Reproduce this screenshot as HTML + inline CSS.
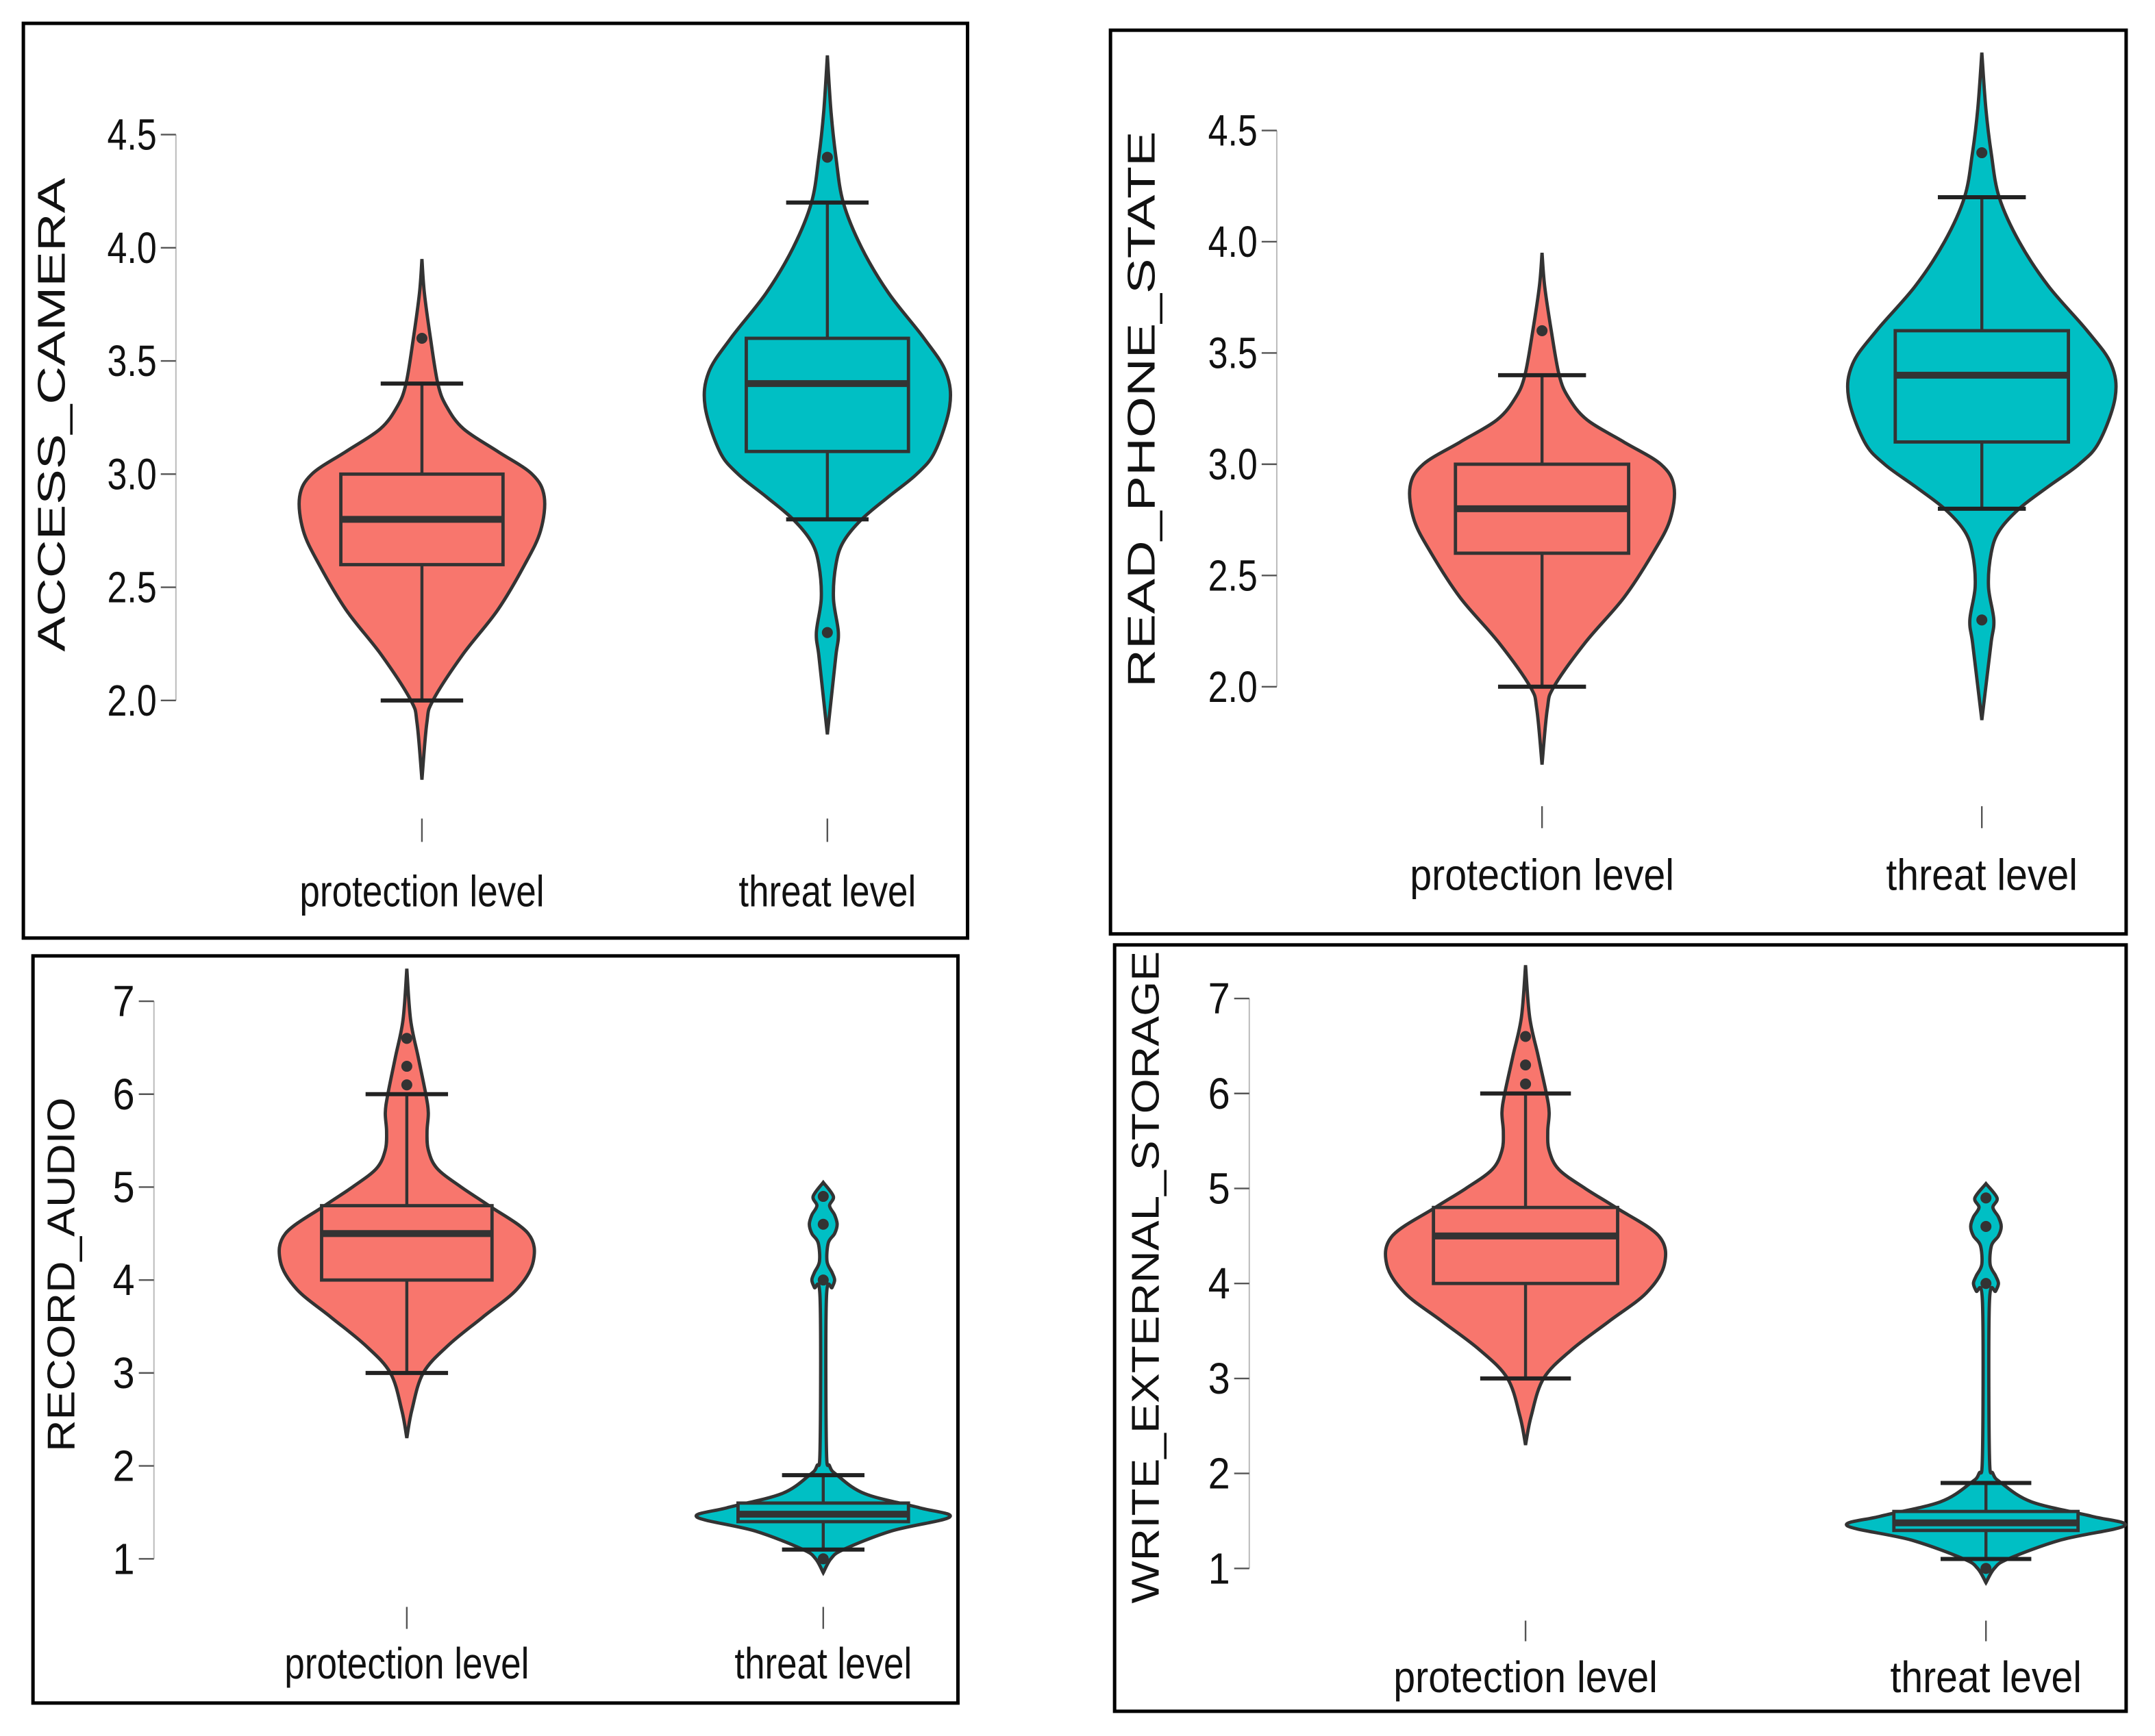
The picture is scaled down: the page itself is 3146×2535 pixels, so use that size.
<!DOCTYPE html>
<html><head><meta charset="utf-8"><style>
html,body{margin:0;padding:0;background:#fff;}
svg{display:block;}
</style></head><body>
<svg id="chart" xmlns="http://www.w3.org/2000/svg" width="3146" height="2535" viewBox="0 0 1568 1264" preserveAspectRatio="none"></svg>
<script>
// ---- data (values in data units; widths as relative density 0..1) ----
const categories = ["protection level", "threat level"];
const panelTitles = ["ACCESS_CAMERA", "READ_PHONE_STATE", "RECORD_AUDIO", "WRITE_EXTERNAL_STORAGE"];
const tickLabelsA = ["2.0", "2.5", "3.0", "3.5", "4.0", "4.5"];
const tickValuesA = [2.0, 2.5, 3.0, 3.5, 4.0, 4.5];
const tickLabelsB = ["1", "2", "3", "4", "5", "6", "7"];
const tickValuesB = [1, 2, 3, 4, 5, 6, 7];

// Violin density profiles: camera/phone
const protAVals = [1.65, 1.9, 2.0, 2.2, 2.4, 2.6, 2.75, 2.9, 3.0, 3.1, 3.2, 3.3, 3.4, 3.6, 3.8, 3.95];
const protADens = [0, 0.04, 0.09, 0.33, 0.62, 0.84, 0.97, 1.0, 0.9, 0.62, 0.34, 0.2, 0.13, 0.07, 0.02, 0];
const threatAVals = [1.85, 2.0, 2.2, 2.3, 2.45, 2.6, 2.7, 2.8, 2.9, 3.0, 3.1, 3.3, 3.45, 3.6, 3.8, 4.0, 4.2, 4.4, 4.6, 4.85];
const threatADens = [0, 0.03, 0.07, 0.09, 0.05, 0.07, 0.13, 0.28, 0.5, 0.73, 0.88, 1.0, 0.97, 0.79, 0.5, 0.28, 0.13, 0.07, 0.03, 0];
const protABox = [2.0, 2.6, 2.8, 3.0, 3.4];
const threatABox = [2.8, 3.1, 3.4, 3.6, 4.2];
const protAOut = [3.6];
const threatAOut = [4.4, 2.3];

// Violin density profiles: audio/storage
const protBVals = [2.3, 2.6, 3.0, 3.3, 3.6, 3.9, 4.2, 4.5, 4.8, 5.0, 5.2, 5.4, 5.6, 5.8, 6.0, 6.4, 6.8, 7.35];
const protBDens = [0, 0.04, 0.13, 0.33, 0.6, 0.87, 1.0, 0.96, 0.65, 0.43, 0.24, 0.17, 0.16, 0.17, 0.15, 0.09, 0.03, 0];
const threatBVals = [0.85, 1.0, 1.1, 1.3, 1.45, 1.55, 1.7, 1.9, 2.0, 2.2, 3.8, 3.92, 4.0, 4.08, 4.2, 4.4, 4.5, 4.6, 4.7, 4.8, 4.9, 5.05];
const threatBDens = [0, 0.06, 0.16, 0.54, 1.0, 0.76, 0.33, 0.11, 0.05, 0.025, 0.025, 0.07, 0.09, 0.07, 0.03, 0.04, 0.09, 0.11, 0.09, 0.05, 0.08, 0];
const protBBox = [3.0, 4.0, 4.5, 4.8, 6.0];
const threatBBox = [1.1, 1.4, 1.48, 1.6, 1.9];
const protBOut = [6.1, 6.3, 6.6];
const threatBOut = [1.0, 4.0, 4.6, 4.9];

const panels = [
  {name:"access-camera", frame:[17,17,704,683], ax:128, y0v:2.0, y0p:510, y1v:4.5, y1p:98, cx:[307,602], tickY:[596,613], labY:660, titleX:37, titleY:302, titleLen:345,
   tv:tickValuesA, tl:tickLabelsA, maxW:[89,89], boxW:[59,59], capW:30,
   v:[[protAVals,protADens,protABox,protAOut],[threatAVals,threatADens,threatABox,threatAOut]]},
  {name:"read-phone-state", frame:[808,22,1547,680], ax:929, y0v:2.0, y0p:500, y1v:4.5, y1p:95, cx:[1122,1442], tickY:[587,603], labY:648, titleX:830, titleY:298, titleLen:405,
   tv:tickValuesA, tl:tickLabelsA, maxW:[96,97], boxW:[63,63], capW:32,
   v:[[protAVals,protADens,protABox,protAOut],[threatAVals,threatADens,threatABox,threatAOut]]},
  {name:"record-audio", frame:[24,696,697,1240], ax:112, y0v:1, y0p:1135, y1v:7, y1p:729, cx:[296,599], tickY:[1170,1186], labY:1222, titleX:44, titleY:928, titleLen:258,
   tv:tickValuesB, tl:tickLabelsB, maxW:[92,92], boxW:[62,62], capW:30,
   v:[[protBVals,protBDens,protBBox,protBOut],[threatBVals,threatBDens,threatBBox,threatBOut]]},
  {name:"write-external-storage", frame:[811,688,1547,1246], ax:909, y0v:1, y0p:1142, y1v:7, y1p:727, cx:[1110,1445], tickY:[1180,1195], labY:1232, titleX:833, titleY:930, titleLen:475,
   tv:tickValuesB, tl:tickLabelsB, maxW:[101,101], boxW:[67,67], capW:33,
   v:[[protBVals,protBDens,protBBox,protBOut],[threatBVals,threatBDens,threatBBox,threatBOut]]}
];
const fills = ["#F8766D", "#00BFC4"];
const catLens = [178, 129];

const NS = "http://www.w3.org/2000/svg";
const svg = document.getElementById("chart");
function mk(tag, attrs, parent){ const e=document.createElementNS(NS,tag); for(const k in attrs) e.setAttribute(k,attrs[k]); (parent||svg).appendChild(e); return e; }

function smoothPath(pts){
  let d = "M"+pts[0][0].toFixed(2)+","+pts[0][1].toFixed(2);
  for(let i=0;i<pts.length-1;i++){
    const p0=pts[Math.max(0,i-1)], p1=pts[i], p2=pts[i+1], p3=pts[Math.min(pts.length-1,i+2)];
    const c1=[p1[0]+(p2[0]-p0[0])/6, p1[1]+(p2[1]-p0[1])/6];
    const c2=[p2[0]-(p3[0]-p1[0])/6, p2[1]-(p3[1]-p1[1])/6];
    d+=" C"+c1[0].toFixed(2)+","+c1[1].toFixed(2)+" "+c2[0].toFixed(2)+","+c2[1].toFixed(2)+" "+p2[0].toFixed(2)+","+p2[1].toFixed(2);
  }
  return d;
}

panels.forEach((p)=>{
  const g = mk("g",{});
  
  
  const yS = v => p.y0p + (v - p.y0v) * (p.y1p - p.y0p) / (p.y1v - p.y0v);
  const f = p.frame;
  const fr = mk("rect",{x:f[0],y:f[1],width:f[2]-f[0],height:f[3]-f[1],fill:"none",stroke:"#000","stroke-width":2.5},g);
  
  
  const tmin=p.tv[0], tmax=p.tv[p.tv.length-1];
  const axl = mk("line",{x1:p.ax,x2:p.ax,y1:yS(tmin),y2:yS(tmax),stroke:"#bbb","stroke-width":1},g);
  
  
  p.tv.forEach((tv,i)=>{
    const y=yS(tv);
    const t = mk("line",{x1:p.ax-11,x2:p.ax,y1:y,y2:y,stroke:"#555","stroke-width":1.2},g);
    
    
    const tx = mk("text",{x:p.ax-14,y:y+11,"text-anchor":"end","font-family":"Liberation Sans Narrow, Liberation Sans, sans-serif","font-size":32,fill:"#111",textLength:p.tl[i].length>1?36:16,lengthAdjust:"spacingAndGlyphs"},g);
    tx.textContent=p.tl[i];
    
    
  });
  const tt = mk("text",{x:0,y:0,"text-anchor":"middle","font-family":"Liberation Sans, sans-serif","font-size":28,fill:"#111",transform:"translate("+(p.titleX+10)+","+p.titleY+") rotate(-90)",textLength:p.titleLen,lengthAdjust:"spacingAndGlyphs"},g);
  tt.textContent=panelTitles[panels.indexOf(p)];
  
  
  categories.forEach((c,ci)=>{
    const cx=p.cx[ci];
    const xt = mk("line",{x1:cx,x2:cx,y1:p.tickY[0],y2:p.tickY[1],stroke:"#555","stroke-width":1.2},g);
    
    
    const xl = mk("text",{x:cx,y:p.labY,"text-anchor":"middle","font-family":"Liberation Sans Narrow, Liberation Sans, sans-serif","font-size":32,fill:"#111",textLength:catLens[ci]*(p.name==="read-phone-state"||p.name==="write-external-storage"?1.08:1),lengthAdjust:"spacingAndGlyphs"},g);
    xl.textContent=c;
    
    
    const [vals,dens,box,outs]=p.v[ci];
    const W=p.maxW[ci];
    const right=vals.map((v,i)=>[cx+dens[i]*W, yS(v)]);
    const left=vals.map((v,i)=>[cx-dens[i]*W, yS(v)]).reverse();
    let d = smoothPath(right) + " L" + smoothPath(left).slice(1) + " Z";
    const vp = mk("path",{d:d,fill:fills[ci],stroke:"#333","stroke-width":2.4},g);
    
    
    const wl = mk("line",{x1:cx,x2:cx,y1:yS(box[0]),y2:yS(box[4]),stroke:"#333","stroke-width":2.2},g);
    
    
    [box[0],box[4]].forEach(v=>{
      const cap = mk("line",{x1:cx-p.capW,x2:cx+p.capW,y1:yS(v),y2:yS(v),stroke:"#222","stroke-width":3},g);
      
      
    });
    const bw=p.boxW[ci];
    const br = mk("rect",{x:cx-bw,y:yS(box[3]),width:2*bw,height:yS(box[1])-yS(box[3]),fill:fills[ci],stroke:"#333","stroke-width":2.4},g);
    
    
    const md = mk("line",{x1:cx-bw,x2:cx+bw,y1:yS(box[2]),y2:yS(box[2]),stroke:"#333","stroke-width":5},g);
    
    
    outs.forEach(o=>{
      const c = mk("circle",{cx:cx,cy:yS(o),r:4,fill:"#333"},g);
      
      
    });
  });
});
</script>
</body></html>
